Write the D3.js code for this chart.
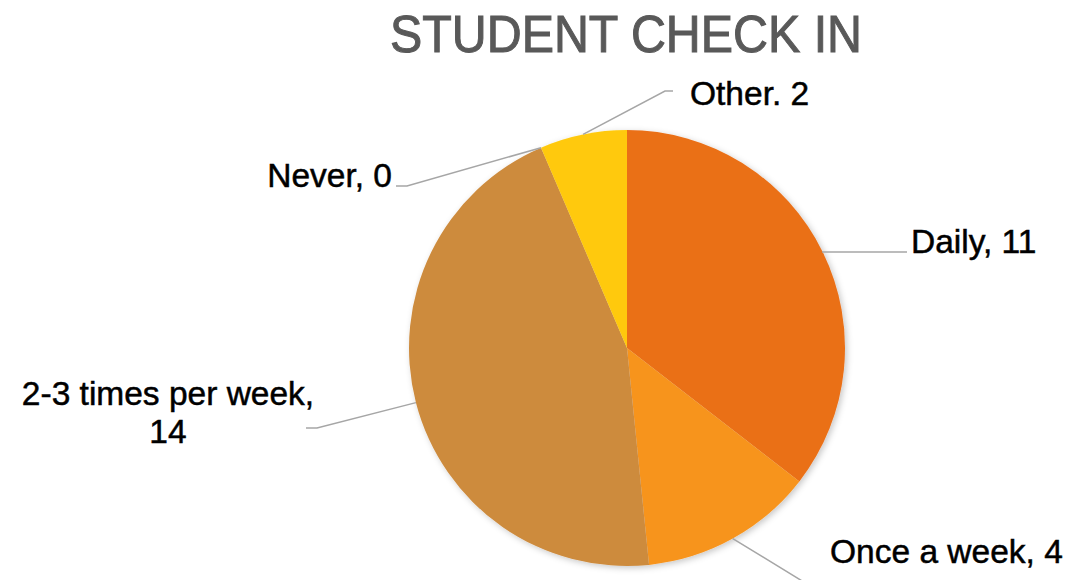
<!DOCTYPE html>
<html>
<head>
<meta charset="utf-8">
<script src="https://cdn.jsdelivr.net/npm/d3@7"></script>
<style>
  html, body { margin: 0; padding: 0; background: #fff; }
  svg { display: block; }
  text { font-family: "Liberation Sans", Arial, sans-serif; }
</style>
</head>
<body>
<svg id="chart" width="1066" height="580"></svg>
<script>
// ---- data ----
const categories = ["Daily", "Once a week", "2-3 times per week", "Never", "Other"];
const values = [11, 4, 14, 0, 2];
const labelTexts = [["Daily, 11"], ["Once a week, 4"], ["2-3 times per week,", "14"], ["Never, 0"], ["Other. 2"]];
const colors = ["#EA7019", "#F7941E", "#CD8B3E", "#E8A040", "#FFC90B"];

// ---- layout ----
const W = 1066, H = 580;
const cx = 627, cy = 348, R = 218;

// per-slice label layout: elbow, line end, label anchor
const labelLayout = [
  { elbow: [822, 252], end: [907, 252], tx: 911, ty: 253, anchor: "start" },
  { elbow: [830, 598], end: [840, 598], tx: 830, ty: 563, anchor: "start" },
  { elbow: [317, 428], end: [306, 428], tx: 168, ty: 405, anchor: "middle" },
  { elbow: [407, 186], end: [396, 186], tx: 392, ty: 187, anchor: "end" },
  { elbow: [665, 91], end: [673, 91], tx: 690, ty: 105, anchor: "start" }
];

const svg = d3.select("#chart");

const defs = svg.append("defs");
const f = defs.append("filter").attr("id", "shadow")
  .attr("x", "-10%").attr("y", "-10%").attr("width", "120%").attr("height", "120%");
f.append("feDropShadow").attr("dx", 2).attr("dy", 2).attr("stdDeviation", 3)
  .attr("flood-color", "#000").attr("flood-opacity", 0.22);

// title
svg.append("text")
  .attr("x", 626).attr("y", 52)
  .attr("text-anchor", "middle")
  .attr("font-size", 51)
  .attr("fill", "#595959")
  .attr("stroke", "#595959")
  .attr("stroke-width", 1)
  .attr("textLength", 472)
  .attr("lengthAdjust", "spacingAndGlyphs")
  .text("STUDENT CHECK IN");

const pie = d3.pie().sort(null).value(d => d)(values);
const arc = d3.arc().innerRadius(0).outerRadius(R);

const g = svg.append("g").attr("transform", `translate(${cx},${cy})`);
g.append("g").attr("filter", "url(#shadow)")
  .selectAll("path").data(pie).join("path")
  .attr("d", arc)
  .attr("fill", (d, i) => colors[i]);

// leader lines
pie.forEach((d, i) => {
  const a = (d.startAngle + d.endAngle) / 2;
  const sx = cx + R * Math.sin(a), sy = cy - R * Math.cos(a);
  const L = labelLayout[i];
  svg.append("polyline")
    .attr("points", [[sx, sy], L.elbow, L.end].map(p => p.join(",")).join(" "))
    .attr("fill", "none")
    .attr("stroke", "#A6A6A6")
    .attr("stroke-width", 1.5);
  const t = svg.append("text")
    .attr("x", L.tx).attr("y", L.ty)
    .attr("text-anchor", L.anchor)
    .attr("font-size", 33.5)
    .attr("fill", "#000")
    .attr("stroke", "#000")
    .attr("stroke-width", 0.5);
  labelTexts[i].forEach((s, j) => {
    t.append("tspan").attr("x", L.tx).attr("dy", j === 0 ? 0 : 38).text(s);
  });
});
</script>
</body>
</html>
